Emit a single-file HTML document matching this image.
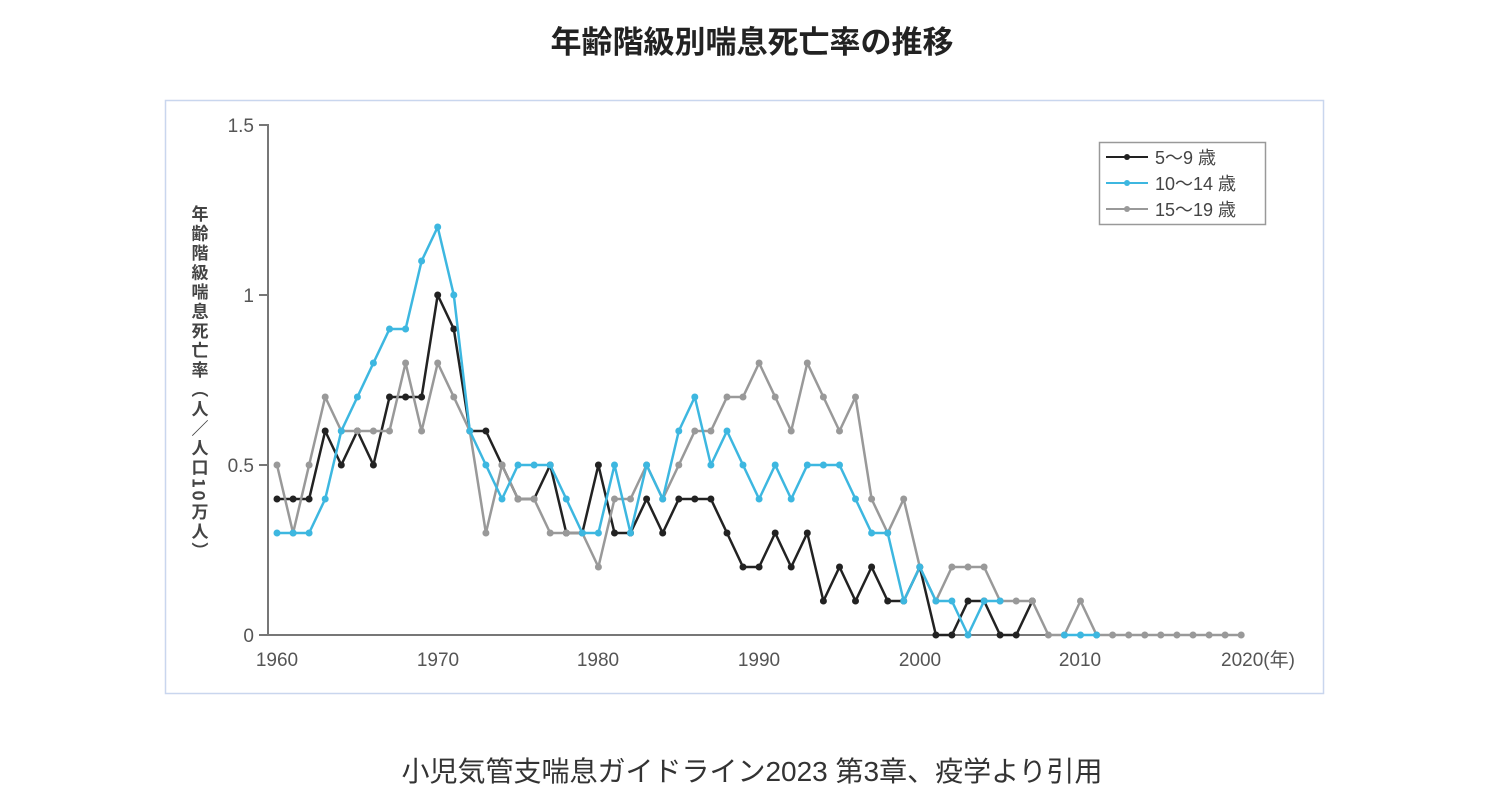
<!DOCTYPE html>
<html><head><meta charset="utf-8"><style>
body{margin:0;background:#fff;width:1504px;height:800px;overflow:hidden;font-family:"Liberation Sans","Noto Sans CJK JP",sans-serif}
.t{position:absolute;top:17px;left:0;width:1504px;text-align:center;font-size:31px;font-weight:bold;color:#222}
.c{position:absolute;top:750px;left:0;width:1504px;text-align:center;font-size:28px;color:#333}
svg{position:absolute;left:0;top:0}
</style></head><body>
<div class="t">年齢階級別喘息死亡率の推移</div>
<svg id="s" width="1504" height="800" xmlns="http://www.w3.org/2000/svg">
<rect x="165.5" y="100.5" width="1158" height="593" fill="none" stroke="#c9d6ee" stroke-width="1.5"/>
<g stroke="#777" stroke-width="2">
<line x1="268" y1="124" x2="268" y2="636"/>
<line x1="267" y1="635" x2="1244" y2="635"/>
<line x1="259" y1="125" x2="268" y2="125"/>
<line x1="259" y1="295" x2="268" y2="295"/>
<line x1="259" y1="465" x2="268" y2="465"/>
<line x1="259" y1="635" x2="268" y2="635"/>
</g>
<g font-size="19" fill="#555" text-anchor="end" font-family="Liberation Sans, sans-serif">
<text x="254" y="132">1.5</text><text x="254" y="302">1</text><text x="254" y="472">0.5</text><text x="254" y="642">0</text>
</g>
<g font-size="19" fill="#555" text-anchor="middle" font-family="Liberation Sans, Noto Sans CJK JP, sans-serif">
<text x="277" y="666">1960</text><text x="438" y="666">1970</text><text x="598" y="666">1980</text><text x="759" y="666">1990</text><text x="920" y="666">2000</text><text x="1080" y="666">2010</text><text x="1258" y="666">2020(年)</text>
</g>
<text font-size="17" font-weight="bold" fill="#444" font-family="Noto Sans CJK JP, sans-serif" transform="translate(200,205)" style="writing-mode:vertical-rl" letter-spacing="2.5">年齢階級喘息死亡率（人／人口10万人）</text>
<g id="d"></g>
<rect x="1099.5" y="142.5" width="166" height="82" fill="#fff" stroke="#999" stroke-width="1.5"/>
<g stroke-width="2">
<line x1="1106" y1="157" x2="1148" y2="157" stroke="#222"/><circle cx="1127" cy="157" r="3" fill="#222"/>
<line x1="1106" y1="183" x2="1148" y2="183" stroke="#3db7e0"/><circle cx="1127" cy="183" r="3" fill="#3db7e0"/>
<line x1="1106" y1="209" x2="1148" y2="209" stroke="#999"/><circle cx="1127" cy="209" r="3" fill="#999"/>
</g>
<g font-size="18" fill="#444" font-family="Liberation Sans, Noto Sans CJK JP, sans-serif">
<text x="1155" y="164">5〜9 歳</text><text x="1155" y="190">10〜14 歳</text><text x="1155" y="216">15〜19 歳</text>
</g>
</svg>
<div class="c">小児気管支喘息ガイドライン2023 第3章、疫学より引用</div>
<script>
var bk=[4,4,4,6,5,6,5,7,7,7,10,9,6,6,5,4,4,5,3,3,5,3,3,4,3,4,4,4,3,2,2,3,2,3,1,2,1,2,1,1,2,0,0,1,1,0,0,1];
var bl=[3,3,3,4,6,7,8,9,9,11,12,10,6,5,4,5,5,5,4,3,3,5,3,5,4,6,7,5,6,5,4,5,4,5,5,5,4,3,3,1,2,1,1,0,1,1];
var gr=[5,3,5,7,6,6,6,6,8,6,8,7,6,3,5,4,4,3,3,3,2,4,4,5,4,5,6,6,7,7,8,7,6,8,7,6,7,4,3,4,2,1,2,2,2,1,1,1,0,0,1,0,0,0,0,0,0,0,0,0,0];
function X(i){return 277+i*16.07}function Y(v){return 635-v*34}
var h='';
function s(a,c,o){o=o||0;var p=a.map(function(v,i){return X(i+o).toFixed(1)+','+Y(v)}).join(' ');
h+='<polyline points="'+p+'" fill="none" stroke="'+c+'" stroke-width="2.5" stroke-linejoin="round"/>';
a.forEach(function(v,i){h+='<circle cx="'+X(i+o).toFixed(1)+'" cy="'+Y(v)+'" r="3.5" fill="'+c+'"/>'});}
s(bk,'#222');s(gr,'#999');s(bl,'#3db7e0');s([0,0,0],'#3db7e0',49);
document.getElementById('d').innerHTML=h;
</script>
</body></html>
